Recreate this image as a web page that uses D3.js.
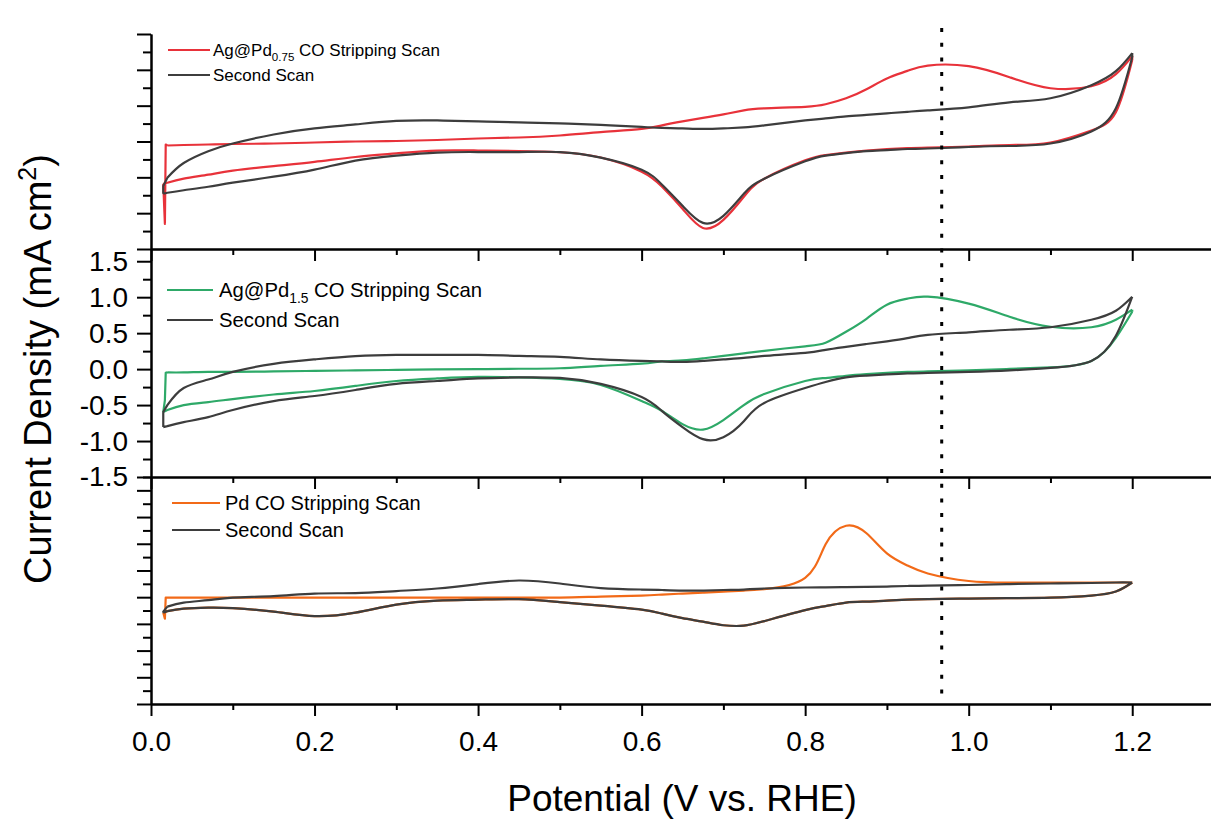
<!DOCTYPE html>
<html>
<head>
<meta charset="utf-8">
<title>CO Stripping</title>
<style>
  body { margin: 0; background: #fff; }
  svg { display: block; font-family: "Liberation Sans", Arial, sans-serif; }
</style>
</head>
<body>
<script src="https://d3js.org/d3.v7.min.js"></script>
<script>
// potential grid (V vs. RHE), shared by every branch of every scan
var potential = [0.02, 0.04, 0.07, 0.1, 0.15, 0.2, 0.25, 0.3, 0.35, 0.4, 0.45, 0.5, 0.55, 0.6,
                 0.625, 0.65, 0.675, 0.7, 0.725, 0.75, 0.8, 0.825, 0.85, 0.875, 0.9, 0.925, 0.95,
                 1.0, 1.05, 1.1, 1.15, 1.18, 1.2];

// --- Ag@Pd0.75 (top panel) ---
var ag075StripStart = [[0.017, -1.150], [0.018, -0.042]];
var ag075StripFwd = [-0.056, -0.049, -0.042, -0.035, -0.028, -0.014, 0.000, 0.007, 0.021, 0.042, 0.056, 0.084, 0.130, 0.175,
                     0.224, 0.280, 0.329, 0.379, 0.435, 0.463, 0.484, 0.519, 0.603, 0.729, 0.880, 0.985, 1.060,
                     1.051, 0.897, 0.743, 0.771, 0.939, 1.192];
var ag075StripRev = [-0.575, -0.519, -0.463, -0.407, -0.343, -0.284, -0.216, -0.166, -0.126, -0.126, -0.133, -0.150, -0.224, -0.421,
                     -0.631, -0.939, -1.206, -1.094, -0.771, -0.519, -0.262, -0.189, -0.154, -0.126, -0.105, -0.091, -0.084,
                     -0.070, -0.049, -0.014, 0.154, 0.407, 1.136];
var ag075StripEnd = [0.015, -0.589];

var ag075SecondStart = [[0.015, -0.620]];
var ag075SecondFwd = [-0.505, -0.300, -0.135, -0.028, 0.098, 0.182, 0.238, 0.287, 0.294, 0.280, 0.266, 0.252, 0.231, 0.203,
                      0.189, 0.182, 0.175, 0.182, 0.196, 0.224, 0.294, 0.322, 0.350, 0.371, 0.393, 0.414, 0.435,
                      0.477, 0.547, 0.603, 0.785, 0.981, 1.234];
var ag075SecondRev = [-0.715, -0.680, -0.631, -0.575, -0.491, -0.393, -0.266, -0.196, -0.154, -0.147, -0.147, -0.147, -0.224, -0.393,
                      -0.603, -0.897, -1.136, -1.037, -0.729, -0.519, -0.276, -0.196, -0.161, -0.133, -0.119, -0.105, -0.098,
                      -0.077, -0.063, -0.028, 0.140, 0.463, 1.178];
var ag075SecondEnd = [0.015, -0.729];

// --- Ag@Pd1.5 (middle panel, mA cm^-2) ---
var ag15StripStart = [[0.017, -0.430], [0.018, -0.053]];
var ag15StripFwd = [-0.046, -0.046, -0.039, -0.039, -0.032, -0.025, -0.018, -0.011, -0.004, 0.000, 0.005, 0.012, 0.045, 0.075,
                    0.107, 0.121, 0.149, 0.184, 0.219, 0.254, 0.317, 0.366, 0.519, 0.700, 0.896, 0.980, 1.007,
                    0.910, 0.728, 0.589, 0.582, 0.686, 0.826];
var ag15StripRev = [-0.569, -0.500, -0.458, -0.416, -0.353, -0.304, -0.234, -0.165, -0.130, -0.109, -0.116, -0.137, -0.220, -0.444,
                    -0.583, -0.765, -0.841, -0.709, -0.500, -0.346, -0.165, -0.124, -0.092, -0.069, -0.053, -0.039, -0.032,
                    -0.018, 0.003, 0.024, 0.114, 0.435, 0.798];
var ag15StripEnd = [0.015, -0.597];

var ag15SecondStart = [[0.015, -0.597]];
var ag15SecondFwd = [-0.500, -0.262, -0.145, -0.039, 0.073, 0.135, 0.180, 0.198, 0.198, 0.198, 0.184, 0.170, 0.135, 0.114,
                     0.107, 0.100, 0.114, 0.135, 0.156, 0.184, 0.226, 0.268, 0.310, 0.349, 0.386, 0.430, 0.477,
                     0.512, 0.547, 0.582, 0.686, 0.812, 1.007];
var ag15SecondRev = [-0.792, -0.737, -0.667, -0.569, -0.444, -0.374, -0.290, -0.206, -0.165, -0.130, -0.116, -0.123, -0.206, -0.388,
                     -0.583, -0.806, -0.974, -0.946, -0.724, -0.470, -0.262, -0.179, -0.115, -0.090, -0.074, -0.060, -0.053,
                     -0.039, -0.018, 0.017, 0.114, 0.463, 1.007];
var ag15SecondEnd = [0.015, -0.806];

// --- Pd (bottom panel) ---
var pdStripStart = [[0.017, -0.402], [0.018, -0.008]];
var pdStripFwd = [-0.008, -0.008, -0.008, -0.008, -0.008, -0.008, -0.008, -0.008, -0.008, -0.008, -0.008, -0.008, 0.011, 0.030,
                  0.049, 0.068, 0.086, 0.105, 0.124, 0.150, 0.360, 0.990, 1.337, 1.196, 0.820, 0.594, 0.444,
                  0.303, 0.275, 0.275, 0.275, 0.275, 0.275];
var pdStripRev = [-0.261, -0.214, -0.196, -0.205, -0.271, -0.355, -0.290, -0.139, -0.064, -0.045, -0.038, -0.094, -0.158, -0.233,
                  -0.308, -0.393, -0.459, -0.525, -0.534, -0.449, -0.243, -0.167, -0.102, -0.083, -0.064, -0.045, -0.036,
                  -0.026, -0.017, -0.008, 0.030, 0.105, 0.275];
var pdStripEnd = [0.015, -0.290];

var pdSecondStart = [[0.015, -0.271]];
var pdSecondFwd = [-0.177, -0.102, -0.055, -0.008, 0.021, 0.068, 0.077, 0.115, 0.162, 0.246, 0.312, 0.256, 0.171, 0.143,
                   0.134, 0.124, 0.124, 0.134, 0.143, 0.162, 0.181, 0.184, 0.190, 0.194, 0.199, 0.209, 0.218,
                   0.228, 0.246, 0.256, 0.265, 0.275, 0.275];
var pdSecondRev = [-0.261, -0.214, -0.196, -0.205, -0.271, -0.355, -0.290, -0.139, -0.064, -0.045, -0.038, -0.094, -0.158, -0.233,
                   -0.308, -0.393, -0.459, -0.525, -0.534, -0.449, -0.243, -0.167, -0.102, -0.083, -0.064, -0.045, -0.036,
                   -0.026, -0.017, -0.008, 0.030, 0.105, 0.275];
var pdSecondEnd = [0.015, -0.290];

// axes
var xMajorTicks = [0, 0.2, 0.4, 0.6, 0.8, 1.0, 1.2];
var xMinorTicks = [0.1, 0.3, 0.5, 0.7, 0.9, 1.1];
var middleTickLabels = [1.5, 1.0, 0.5, 0.0, -0.5, -1.0, -1.5];
var peakPotential = 0.967;

// colours
var red = "#E8323A", green = "#2EA968", orange = "#F26A18", gray = "#3D3D3D";

var width = 1211, height = 820;
var svg = d3.select("body").append("svg")
    .attr("width", width)
    .attr("height", height);

var x = d3.scaleLinear().domain([0, 1.3]).range([151, 1214]);

// one panel per sample, stacked, sharing the potential axis
var panels = [
    {top: 34, bottom: 249, domain: [-1.5, 1.5], majors: d3.range(-1.5, 1.51, 0.5), minors: d3.range(-1.25, 1.3, 0.5),
     labels: false,
     scans: [
        {color: red, start: ag075StripStart, fwd: ag075StripFwd, rev: ag075StripRev, end: ag075StripEnd},
        {color: gray, start: ag075SecondStart, fwd: ag075SecondFwd, rev: ag075SecondRev, end: ag075SecondEnd}],
     legend: {x1: 168, x2: 210, tx: 213, y1: 50, y2: 75, fs: 17, name: "Ag@Pd", sub: "0.75"}},
    {top: 249, bottom: 477, domain: [-1.5, 1.67], majors: middleTickLabels, minors: d3.range(-1.25, 1.3, 0.5),
     labels: true,
     scans: [
        {color: green, start: ag15StripStart, fwd: ag15StripFwd, rev: ag15StripRev, end: ag15StripEnd},
        {color: gray, start: ag15SecondStart, fwd: ag15SecondFwd, rev: ag15SecondRev, end: ag15SecondEnd}],
     legend: {x1: 167, x2: 213, tx: 219, y1: 290, y2: 320, fs: 20.3, name: "Ag@Pd", sub: "1.5"}},
    {top: 477, bottom: 704, domain: [-2, 2.25], majors: d3.range(-2, 2.01, 0.5), minors: d3.range(-1.75, 2.3, 0.5),
     labels: false,
     scans: [
        {color: orange, start: pdStripStart, fwd: pdStripFwd, rev: pdStripRev, end: pdStripEnd},
        {color: gray, start: pdSecondStart, fwd: pdSecondFwd, rev: pdSecondRev, end: pdSecondEnd}],
     legend: {x1: 172, x2: 220, tx: 225, y1: 503, y2: 530, fs: 20, name: "Pd", sub: null}}
];

function styleAxis(g) {
    g.attr("font-family", null).attr("font-size", 28);
    g.selectAll("path, line").attr("stroke", "#000").attr("stroke-width", 2);
    g.selectAll("text").attr("fill", "#000");
}

panels.forEach(function (panel, k) {
    var y = d3.scaleLinear().domain(panel.domain).range([panel.bottom, panel.top]);
    var smooth = d3.line()
        .x(function (d) { return x(d[0]); })
        .y(function (d) { return y(d[1]); })
        .curve(d3.curveNatural);
    var straight = d3.line()
        .x(function (d) { return x(d[0]); })
        .y(function (d) { return y(d[1]); });

    // each CV: anodic and cathodic sweeps as smooth branches, joined at both ends
    panel.scans.forEach(function (scan) {
        var fwd = potential.map(function (p, i) { return [p, scan.fwd[i]]; });
        var rev = potential.map(function (p, i) { return [p, scan.rev[i]]; });
        var d = straight([scan.end].concat(scan.start, [fwd[0]])) +
            smooth(fwd) + smooth(rev) +
            straight([scan.end, rev[0]]) +
            straight([fwd[fwd.length - 1], rev[rev.length - 1]]);
        svg.append("path")
            .attr("d", d)
            .attr("fill", "none")
            .attr("stroke", scan.color)
            .attr("stroke-width", 2.2)
            .attr("stroke-linejoin", "round");
    });

    // left axis, major + minor ticks
    var yMajor = d3.axisLeft(y).tickValues(panel.majors).tickSize(14).tickSizeOuter(0).tickPadding(9)
        .tickFormat(panel.labels ? function (d) { return d.toFixed(1); } : "");
    svg.append("g").attr("transform", "translate(151,0)").call(yMajor).call(styleAxis);
    var yMinor = d3.axisLeft(y).tickValues(panel.minors).tickSize(8).tickSizeOuter(0).tickFormat("");
    svg.append("g").attr("transform", "translate(151,0)").call(yMinor).call(styleAxis);

    // bottom axis of this panel
    var last = k === panels.length - 1;
    var xMajor = d3.axisBottom(x).tickValues(xMajorTicks).tickSize(12).tickSizeOuter(0).tickPadding(15)
        .tickFormat(last ? function (d) { return d.toFixed(1); } : "");
    svg.append("g").attr("transform", "translate(0," + panel.bottom + ")").call(xMajor).call(styleAxis);
    var xMinor = d3.axisBottom(x).tickValues(xMinorTicks).tickSize(6).tickSizeOuter(0).tickFormat("");
    svg.append("g").attr("transform", "translate(0," + panel.bottom + ")").call(xMinor).call(styleAxis);

    // legend
    var lg = panel.legend;
    [[panel.scans[0].color, lg.y1], [gray, lg.y2]].forEach(function (row, r) {
        svg.append("line")
            .attr("x1", lg.x1).attr("x2", lg.x2)
            .attr("y1", row[1]).attr("y2", row[1])
            .attr("stroke", row[0]).attr("stroke-width", 2.2);
        var t = svg.append("text")
            .attr("x", lg.tx).attr("y", row[1] + lg.fs * 0.36)
            .attr("font-size", lg.fs).attr("fill", "#000");
        if (r === 1) {
            t.text("Second Scan");
        } else if (lg.sub) {
            t.append("tspan").text(lg.name);
            t.append("tspan").attr("font-size", lg.fs * 0.68).attr("dy", lg.fs * 0.3).text(lg.sub);
            t.append("tspan").attr("dy", -lg.fs * 0.3).text(" CO Stripping Scan");
        } else {
            t.text(lg.name + " CO Stripping Scan");
        }
    });
});

// dotted marker at the stripping peak
svg.append("line")
    .attr("x1", x(peakPotential)).attr("x2", x(peakPotential))
    .attr("y1", 28).attr("y2", 700)
    .attr("stroke", "#000").attr("stroke-width", 3)
    .attr("stroke-dasharray", "4,10.7");

// axis titles
svg.append("text")
    .attr("x", 682).attr("y", 811)
    .attr("text-anchor", "middle")
    .attr("font-size", 37)
    .text("Potential (V vs. RHE)");

var yt = svg.append("text")
    .attr("transform", "translate(51,369) rotate(-90)")
    .attr("text-anchor", "middle")
    .attr("font-size", 38);
yt.append("tspan").text("Current Density (mA cm");
yt.append("tspan").attr("font-size", 25).attr("dy", -15).text("2");
yt.append("tspan").attr("dy", 15).text(")");
</script>
</body>
</html>
